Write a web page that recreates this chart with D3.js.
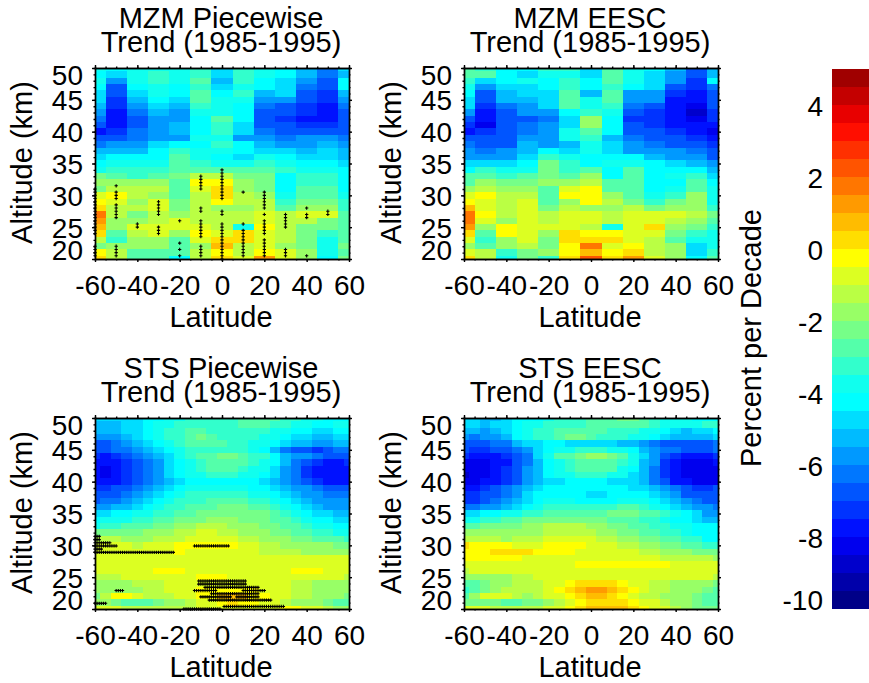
<!DOCTYPE html>
<html>
<head>
<meta charset="utf-8">
<script src="https://cdn.jsdelivr.net/npm/d3@7"></script>
<style>
  body { margin: 0; background: #fff; }
  svg { display: block; }
  text { font-family: "Liberation Sans", Arial, sans-serif; fill: #000; }
</style>
</head>
<body>
<div id="chart"></div>
<script>
const width = 869, height = 683;

// altitude rows, top to bottom
const altitudes = d3.range(50, 19, -1);
const latMzm = d3.range(-60, 61, 10);
const latSts = d3.range(-60, 61, 5);
const latTicks = [-60, -40, -20, 0, 20, 40, 60];
const altTicks = [20, 25, 30, 35, 40, 45, 50];
const barTicks = [-10, -8, -6, -4, -2, 0, 2, 4];

// jet, 30 bands from -10 to 5
const bandColors = ["#000088","#0000aa","#0000cc","#0000ee","#0011ff","#0033ff","#0055ff","#0077ff","#0099ff","#00bbff",
  "#00ddff","#00ffff","#10ffee","#32ffcc","#54ffaa","#76ff88","#98ff66","#baff44","#dcff22","#ffff00",
  "#ffde00","#ffbc00","#ff9a00","#ff7600","#ff5400","#ff3000","#ff0e00","#e80000","#c40000","#a00000"];

const mzmPiecewise = [
[-3.7,-4.2,-3.7,-3.7,-3.7,-3.2,-4.7,-3.2,-3.7,-4.2,-5.2,-6.2,-5],
[-4.2,-4.7,-3.7,-3.4,-3.7,-3.4,-5.0,-3.2,-3.7,-4.2,-5.2,-6.2,-5.2],
[-4.0,-6,-4,-3.4,-4,-3.0,-5.2,-3.2,-4.2,-4.7,-5.7,-6.7,-4.2],
[-4.2,-6.7,-4.2,-3.7,-4.2,-3.2,-4.7,-3.7,-4.2,-4.7,-6.2,-7,-4.2],
[-4.7,-7,-4.7,-4,-4.2,-2.7,-4.2,-3.4,-5.2,-5,-6.7,-7.5,-5.2],
[-4.7,-7.5,-5.2,-4.4,-4.7,-2.7,-3.7,-3.7,-5.7,-5.7,-7,-7.5,-5.7],
[-5.2,-7.5,-5.7,-4.7,-5.2,-3.2,-3.7,-4.2,-6.2,-7,-7.5,-8,-6.2],
[-5.7,-8,-6.2,-5.2,-5.7,-3.7,-3.7,-4.2,-6.7,-7,-7.5,-8,-6.7],
[-6.5,-8,-6.7,-5.7,-5.7,-4.2,-3,-4.2,-7,-7.2,-7.8,-7.8,-6.7],
[-7,-8,-6.7,-5.7,-5.2,-4.4,-3.2,-4.7,-6.7,-6.8,-7.5,-7.5,-6.7],
[-8,-7.5,-6.5,-6,-5.2,-4.2,-3.4,-5,-6.2,-6.7,-6.7,-6.7,-6.7],
[-7,-7,-6.2,-5.7,-5.7,-3.7,-3.7,-5.7,-5.7,-6.2,-6,-6,-6.2],
[-6.5,-6,-5.7,-4.7,-4.2,-4.2,-3.5,-4.4,-5.2,-5.7,-5.7,-5.5,-5.7],
[-5.5,-5.2,-5.2,-4.2,-3.5,-4,-4,-4.2,-4.7,-4.7,-5.2,-5,-5.2],
[-4.7,-4.5,-4.5,-4.2,-3.0,-4,-4.2,-4.7,-3.7,-4.3,-4.7,-4.7,-5.2],
[-4.2,-3.7,-3.7,-3.7,-2.7,-3.2,-3.7,-3.7,-3.2,-3.7,-4.5,-4.2,-4.7],
[-3.7,-3.2,-3.2,-3.2,-2.7,-2.7,-2.7,-3,-2.7,-3.5,-3.7,-4.0,-4.5],
[-2.5,-2.7,-3.5,-2.7,-2.2,-1.2,-1.2,-2.2,-2.4,-4.2,-3.5,-3.5,-4.2],
[-2,-1.7,-2,-2,-2.7,-0.5,-0.2,-1.7,-2.2,-4.2,-3.2,-3.2,-4.2],
[-2.2,-1.2,-1.5,-1.5,-2.9,-0.6,0.2,-1.7,-2.4,-4.2,-3,-3.0,-4.2],
[-0.7,-0.2,-1.3,-1.7,-2.9,-1.2,0.2,-1.2,-2,-3.7,-3,-2.7,-4.0],
[-0.2,-1,-2,-0.7,-2.5,-1.5,-0.5,-1.2,-1.2,-3.2,-2.2,-2.5,-3.5],
[0.3,-1.3,-1.5,-1,-2.2,-1.3,-1.7,-1.7,-1.2,-2.7,-1.7,-1.7,-3.2],
[1.5,-1.2,-2.2,-1.3,-1.7,-1.3,-1.2,-1.4,-0.9,-1.2,-1,-0.7,-2.7],
[1.0,-2,-1.7,-1.3,-0.7,-1.3,-1.4,-1.2,-0.7,-1.2,-1.2,-2.2,-2.7],
[0.5,-2,-0.7,-0.9,-1,-1,-1.2,-3.7,-0.5,-1.5,-2.2,-2.4,-3],
[0.2,-3,-1.5,-1,-2,-0.2,-0.9,0.2,-1,-1.5,-2.4,-3.2,-2.7],
[-1.5,-3.5,-1.7,-1.7,-3,-0.7,0,0.4,-1,-1.5,-2.4,-3.7,-2.7],
[-2.2,-1.7,-1.7,-1.7,-2.7,-1.9,0.6,-1.2,-0.7,-1.7,-2.2,-3.7,-2.2],
[-0.2,-1.2,-3,-2.9,-2.9,-1.4,-0.3,-1.4,-0.4,-1.0,-1.7,-4,-2.9],
[0.1,-1.2,-3,-2.9,-4.2,-1.2,0.2,-1,1.0,-1,-1.7,-4.2,-2.5]
];

const mzmEesc = [
[-3,-3.5,-4.5,-4.5,-3.5,-3.5,-4.7,-3,-3.7,-4.2,-5.2,-7,-5.5],
[-3,-2.9,-4.2,-4.7,-4,-3.7,-5,-2.7,-3.7,-4.7,-5.7,-7,-5.5],
[-3.2,-4.7,-4.2,-4,-4.2,-3.2,-4.2,-3,-4,-4.7,-6,-7.2,-4.5],
[-4,-5.7,-4.7,-4.7,-4.2,-3.3,-4.2,-3.5,-4.2,-4.7,-6.7,-7.5,-6.5],
[-4.2,-6.7,-5.2,-5,-5,-3,-5.3,-3,-5.7,-5.7,-7.5,-8,-7],
[-4.7,-7,-5.2,-5.2,-5,-2.7,-3.7,-3,-6,-6,-7.8,-8,-7],
[-5,-7.5,-6.2,-5.7,-5,-2.7,-3.7,-3.5,-6.5,-7,-7.8,-8.5,-7],
[-6,-8,-6.7,-6,-6,-4.2,-3.2,-3.7,-7,-7.5,-8,-8.7,-7.5],
[-7,-8,-7,-6.7,-6.5,-4.7,-2,-4.2,-7.2,-7.5,-8,-8.5,-7.5],
[-7.5,-8.2,-7,-6.5,-6,-4.7,-2,-4.3,-7,-7.5,-8,-8,-8],
[-8,-7.5,-7,-6.5,-6,-4,-3,-4.5,-7,-7,-7.5,-7.7,-8.2],
[-7,-7,-7,-6,-5.7,-3.7,-3.5,-5.5,-6.5,-7,-7,-7.3,-7.7],
[-6.5,-6.7,-6.7,-5.2,-5.7,-5.2,-3.7,-4.7,-5.7,-6.2,-6.7,-7,-7.2],
[-6,-6.2,-6,-5.2,-4.2,-4.7,-3.7,-4.7,-5.7,-5.7,-6,-6.5,-7],
[-5.7,-5.7,-5.7,-4.7,-3.2,-3.7,-4.2,-4.2,-4.2,-5.2,-5.7,-6,-6.7],
[-5,-4.7,-4.7,-4.2,-2.5,-3.5,-4.2,-4,-3.7,-4.2,-5,-5.2,-6],
[-4.5,-3.2,-4,-3.7,-2.4,-3.5,-3,-4.5,-3,-4.2,-4.2,-4.5,-5.2],
[-3,-2.7,-3.5,-3,-2.4,-2.7,-1.7,-4.5,-3,-4.2,-4,-3.5,-5],
[-2.7,-2,-2.5,-2.5,-1.7,-1.7,-1.2,-3,-2.7,-4.5,-4.2,-3,-4.2],
[-1.7,-1.5,-1.7,-2,-2.7,-0.7,-0.2,-3,-2.7,-4.5,-4,-2.7,-3.7],
[-0.7,-0.2,-1.2,-1.5,-2.9,-0.5,-0.1,-1.7,-3,-3.7,-3.2,-1.7,-3.7],
[-0.4,-1,-1.2,-1,-2.9,-1.7,-0.4,-1.2,-2.5,-3.2,-2.5,-2,-3.7],
[0.5,-1,-1.2,-0.6,-2.2,-1.2,-1.7,-1.7,-1.2,-2.4,-1.7,-2,-3.2],
[1.7,-0.2,-1.2,-0.6,-1.2,-1,-1,-1.2,-0.7,-0.7,-0.8,-1.5,-2.5],
[1.7,-1,-1.7,-1,-1.2,-0.8,-1,-1.2,-0.7,-0.8,-1.2,-2,-2.7],
[1.2,-1.7,-0.2,-0.7,-1,-0.7,-1.2,-4,-0.7,0.1,-1.7,-2.4,-3.5],
[0.2,-2.7,-0.2,-0.7,-2,0.2,-0.5,-0.2,-0.7,-0.7,-2.4,-3.5,-3.7],
[-0.7,-3.5,-1.7,-0.7,-2.2,0,0.2,0.3,-1,-1.2,-2.7,-3.7,-4],
[-1.7,-2.7,-1.7,-1.2,-2.2,-0.5,1.7,-0.9,-0.2,-1.2,-2,-4.7,-3.7],
[-1,-1.2,-3.5,-2.2,-2,-0.1,0.7,-0.2,0,-1.2,-2,-4.7,-3.5],
[0,-1.2,-3.7,-2.4,-3.3,0.1,2,0.3,1.2,-0.7,-2,-4.2,-2.7]
];

const stsPiecewise = [
[-4.7,-4.7,-5.0,-5.0,-4.7,-4.2,-4.2,-3.7,-3.7,-3.5,-3.5,-3.5,-3.5,-3.2,-3.0,-2.7,-2.7,-3.0,-3.2,-3.5,-3.7,-4.0,-4.2,-4.2,-4.2],
[-5.2,-5.2,-5.2,-5.0,-4.7,-4.2,-3.9,-3.7,-3.5,-3.2,-3.2,-3.4,-3.4,-3.2,-3.0,-2.9,-2.9,-3.2,-3.5,-3.7,-4.0,-4.2,-4.2,-3.7,-3.7],
[-5.5,-5.5,-5.2,-5.0,-4.7,-4.2,-3.7,-3.5,-3.2,-2.9,-2.9,-3.2,-3.2,-3.4,-3.4,-3.2,-3.4,-3.7,-4.0,-4.2,-4.5,-4.7,-4.7,-4.5,-4.5],
[-5.7,-6.0,-5.7,-5.2,-4.7,-4.2,-3.7,-3.4,-3.2,-2.7,-2.4,-2.7,-3.2,-3.2,-3.2,-3.4,-3.7,-4.0,-4.2,-4.7,-5.0,-5.2,-5.2,-5.0,-5.0],
[-6.7,-6.7,-6.2,-5.7,-5.2,-4.7,-4.2,-3.7,-3.5,-3.0,-2.9,-3.0,-3.0,-3.2,-3.5,-3.7,-4.0,-4.2,-4.7,-5.2,-5.5,-5.7,-5.7,-5.5,-5.5],
[-7.0,-6.7,-6.5,-6.2,-6.0,-5.5,-4.7,-4.2,-3.9,-3.5,-3.4,-3.4,-3.2,-3.2,-3.4,-3.9,-4.5,-5.5,-6.2,-6.7,-7.0,-7.2,-6.8,-6.5,-6.2],
[-7.5,-7.7,-7.5,-7.0,-6.5,-6,-5.2,-4.7,-4,-3.2,-2.7,-2.7,-2.4,-2.4,-2.7,-3.2,-3.5,-4.2,-5.2,-5.7,-6.0,-6.2,-6.7,-7.0,-7.0],
[-7.7,-8.0,-7.7,-7.5,-7.0,-6.5,-5.7,-5,-4.2,-3.7,-3.2,-3,-2.7,-2.7,-3,-3.5,-4,-4.5,-5.5,-6.2,-7,-7.5,-7.7,-7.7,-7.5],
[-8.0,-8.2,-8.0,-7.5,-7.0,-6.5,-5.7,-5,-4.2,-3.7,-3.2,-3,-3,-3,-3.2,-3.7,-4,-4.7,-5.7,-6.5,-7.2,-7.7,-8,-8,-8],
[-8.0,-8.2,-8,-7.5,-7,-6.5,-5.7,-5,-4.5,-4,-3.7,-3.5,-3.5,-3.5,-3.7,-4,-4.2,-5,-5.7,-6.5,-7.2,-7.7,-8,-8,-8],
[-8,-8,-7.7,-7.2,-6.7,-6.2,-5.7,-5.2,-4.7,-4.2,-4.2,-4.2,-4.2,-4.2,-4.2,-4.2,-4.7,-5.2,-5.7,-6.2,-6.7,-7.2,-7.7,-8,-8],
[-7.2,-7.2,-7,-6.7,-6.2,-5.7,-5.2,-4.7,-4.2,-4,-3.7,-3.7,-3.7,-3.9,-4,-4.2,-4.5,-4.7,-5.2,-5.7,-6,-6.5,-6.7,-6.7,-6.7],
[-6.7,-6.7,-6.7,-6.2,-5.7,-5.2,-4.7,-4.2,-3.9,-3.5,-3.4,-3.4,-3.4,-3.4,-3.5,-3.7,-4,-4.2,-4.7,-5.2,-5.7,-6,-6.2,-6.2,-6.2],
[-6.7,-6.5,-6.2,-5.7,-5.2,-4.7,-4.2,-3.9,-3.5,-3.2,-3.2,-3,-3,-3,-3,-3.2,-3.5,-3.9,-4.2,-4.7,-5.2,-5.7,-5.7,-6,-6],
[-5.7,-5.7,-5.5,-5.2,-4.7,-4.2,-3.7,-3.5,-3.2,-3,-2.9,-2.7,-2.5,-2.4,-2.4,-2.7,-3,-3.4,-3.7,-4.2,-4.7,-5.2,-5.7,-5.7,-5.7],
[-4.7,-4.7,-4.5,-4.2,-3.9,-3.7,-3.4,-3.2,-3,-2.7,-2.4,-2.2,-2.2,-2.2,-2.2,-2.4,-2.5,-2.9,-3.2,-3.7,-4.2,-4.7,-5,-5.2,-5.2],
[-4.2,-4,-3.9,-3.7,-3.4,-3.2,-3.0,-2.9,-2.5,-2.2,-2.2,-2,-2,-2,-2.2,-2.2,-2.4,-2.7,-2.9,-3.2,-3.7,-4.2,-4.5,-4.7,-4.7],
[-3.7,-3.4,-3.2,-3,-2.9,-2.7,-2.4,-2.2,-2,-1.7,-1.4,-1.2,-1.4,-1.7,-1.9,-2,-2.2,-2.4,-2.7,-3,-3.4,-3.7,-4,-4.2,-4.2],
[-2.2,-2.2,-2.4,-2.2,-2.2,-2,-1.9,-1.7,-1.4,-1.2,-1.0,-1,-1.2,-1.4,-1.7,-1.7,-2,-2.2,-2.4,-2.7,-2.9,-3.2,-3.5,-3.7,-3.7],
[-1.2,-1.2,-1.4,-1.7,-1.7,-1.7,-1.5,-1.4,-1.2,-0.9,-0.7,-0.7,-0.9,-1,-1.2,-1.4,-1.7,-1.9,-2,-2.2,-2.4,-2.7,-2.9,-3,-3.2],
[-0.7,-0.7,-0.9,-1,-1.2,-1,-1,-0.9,-0.4,-0.2,-0.2,-0.2,-0.2,-0.4,-0.7,-1,-1.2,-1.4,-1.7,-1.7,-1.7,-2,-2,-2.2,-2.2],
[-0.7,-0.7,-0.7,-0.7,-0.7,-0.7,-0.7,-0.7,-0.4,-0.7,-0.7,-0.7,-0.7,-0.7,-0.9,-1,-1.2,-1.2,-1.4,-1.4,-1.7,-1.7,-1.9,-1.9,-2],
[-0.9,-0.7,-0.7,-0.7,-0.7,-0.7,-0.7,-0.7,-0.7,-0.7,-0.7,-0.7,-0.7,-0.7,-0.7,-0.7,-0.7,-0.7,-0.7,-0.7,-0.7,-0.7,-0.7,-0.7,-0.9],
[-0.7,-0.7,-0.7,-0.7,-0.7,-0.7,-0.7,-0.7,-0.7,-0.7,-0.7,-0.7,-0.7,-0.7,-0.7,-0.7,-0.7,-0.7,-0.7,-0.7,-0.7,-0.7,-0.7,-0.7,-0.7],
[-0.7,-0.7,-0.9,-0.7,-0.7,-0.7,-0.2,-0.2,-0.2,-0.7,-0.7,-0.7,-0.7,-0.7,-0.7,-0.7,-0.7,-0.7,-0.7,-0.2,-0.2,-0.2,-0.7,-0.7,-0.7],
[-1.2,-1.2,-1.2,-1,-1,-0.9,-0.7,-0.7,-0.7,-0.7,-0.2,-0.2,-0.2,-0.7,-0.7,-0.7,-0.7,-0.7,-0.7,-0.7,-0.7,-0.7,-0.7,-0.9,-1.2],
[-1.7,-1.7,-1.7,-1.7,-1.4,-1.2,-1.2,-1,-1,-0.9,-0.7,-0.7,-0.7,-0.7,-0.7,-0.7,-0.7,-0.9,-1,-1.2,-1.4,-1.7,-1.9,-1.9,-2],
[-1.7,-1.7,-1.7,-1.7,-1.7,-1.4,-1.2,-1,-0.9,-0.7,-0.5,-0.4,-0.2,-0.2,-0.2,-0.4,-0.7,-0.9,-1,-1.2,-1.4,-1.7,-1.7,-1.9,-2],
[-2.2,-1.4,-0.5,-0.2,-1,-1.2,-1.4,-1.2,-0.9,-0.7,-0.4,-0.2,0.7,0.7,0.7,-0.2,-0.4,-0.7,-1,-1.2,-1.4,-1.7,-1.7,-2,-2.4],
[-1.7,-2,-2.4,-2.7,-3,-2.7,-2.2,-2,-1.7,-1.2,-0.7,-0.7,-0.2,0.4,-0.2,-0.4,-0.7,-1,-1.2,-1.7,-1.7,-2,-2.2,-2.7,-3],
[-0.9,-0.9,-1.0,-1.2,-1.4,-1.2,-1.2,-1.4,-1.4,-1.2,-1,-0.7,-0.7,-0.7,-0.7,-0.7,-0.7,-0.7,-0.4,-0.2,-0.7,-1,-1.4,-1.7,-2]
];

const stsEesc = [
[-4.7,-5,-5.2,-5.2,-5,-4.5,-4.2,-4.2,-3.7,-3.5,-3.5,-3.2,-3,-3,-2.7,-2.4,-2.4,-2.7,-3.2,-3.7,-3.9,-4,-4.2,-4.5,-4.5],
[-4.7,-5,-5.2,-5,-4.7,-4.2,-4,-3.7,-3.5,-3.2,-3.2,-3.2,-3,-2.9,-2.7,-2.7,-2.7,-3,-3.2,-3.7,-4,-4,-3.7,-3.5,-3.5],
[-5.2,-5.5,-5.7,-5.2,-4.7,-4.2,-3.9,-3.5,-3.2,-2.9,-2.7,-2.7,-2.9,-3,-3.2,-3.2,-3.4,-3.7,-4,-4.5,-5,-5.2,-5,-4.7,-4.5],
[-6,-6.2,-6,-5.7,-5.2,-4.5,-3.9,-3.4,-3.2,-2.9,-2.5,-2.5,-2.9,-3.2,-3.2,-3.4,-3.7,-3.9,-4.2,-4.7,-5.2,-5.5,-5.5,-5.2,-5],
[-6.7,-6.7,-6.7,-6.5,-6.5,-5.5,-5,-4.7,-4.5,-4.5,-4.7,-4.7,-5,-5,-5,-5.2,-5.5,-5.7,-6.2,-6.7,-6.7,-6.7,-6.7,-6.7,-6.5],
[-7,-7.2,-7.2,-7,-6.7,-6.2,-5.7,-4.7,-4.2,-3.9,-3.7,-3.4,-3.4,-3.4,-3.7,-3.9,-4.5,-5.2,-5.7,-6.2,-6.5,-6.7,-6.7,-6.7,-6.5],
[-7.5,-8,-8,-7.7,-7.5,-7,-6.2,-5,-4,-3,-2.7,-2.2,-1.9,-2.0,-2.2,-2.7,-3.7,-5,-6,-7,-7.5,-8,-8,-7.7,-7.5],
[-8.2,-8.2,-8.2,-8,-7.7,-7,-6.2,-5.2,-4.2,-3.7,-3.2,-2.9,-2.7,-2.7,-3,-3.4,-4,-5.2,-6,-7.2,-8,-8.5,-8.5,-8.2,-8],
[-8.5,-8.5,-8.2,-8,-7.5,-6.7,-6,-5.2,-4.2,-3.7,-3.4,-3,-2.7,-2.7,-3,-3.7,-4.2,-5.2,-6.2,-7.2,-8,-8.5,-8.5,-8.5,-8.5],
[-8.7,-8.5,-8.2,-7.7,-7.2,-6.7,-6,-5.2,-4.5,-4,-3.7,-3.4,-3.4,-3.5,-3.7,-4,-4.7,-5.5,-6.2,-7.2,-8,-8.2,-8.5,-8.5,-8.5],
[-8.5,-8.2,-8,-7.7,-7.2,-6.7,-6,-5.5,-5,-4.7,-4.5,-4.5,-4.5,-4.5,-4.7,-4.7,-5,-5.5,-6.2,-7,-7.7,-8,-8.2,-8.5,-8.5],
[-7.7,-7.7,-7.2,-7,-6.5,-6,-5.5,-5,-4.5,-4.2,-4.2,-4.2,-4.2,-4.2,-4.2,-4.5,-4.7,-5,-5.5,-6,-6.5,-7,-7.2,-7.2,-7],
[-7.5,-7.2,-7,-6.7,-6.2,-5.7,-5,-4.5,-4.2,-4.2,-4.2,-4.5,-4.7,-4.7,-4.5,-4.2,-4.2,-4.5,-5,-5.5,-6,-6.7,-7,-7,-7],
[-7.2,-7.2,-6.7,-6.5,-6,-5.5,-4.7,-4.2,-3.9,-3.9,-4,-4.2,-4.5,-4.5,-4.2,-3.7,-3.7,-4,-4.2,-5,-5.5,-6,-6.5,-6.7,-6.7],
[-6.2,-6.2,-6,-5.7,-5.2,-4.7,-4.2,-3.7,-3.4,-3.2,-3.2,-3.2,-3.4,-3.4,-3.2,-3,-3,-3.2,-3.7,-4.2,-4.7,-5.2,-5.7,-6,-6.2],
[-4.7,-4.7,-4.5,-4.2,-3.9,-3.7,-3.4,-3.2,-2.9,-2.7,-2.7,-2.7,-2.7,-2.7,-2.4,-2.2,-2.4,-2.7,-3,-3.4,-3.9,-4.5,-5,-5.7,-6],
[-3.7,-3.7,-3.5,-3.4,-3,-2.7,-2.5,-2.4,-2.2,-2.2,-2.2,-2.2,-2.4,-2.5,-2.7,-2.7,-2.9,-3.2,-3.5,-3.7,-4.2,-4.5,-4.7,-5.2,-5.5],
[-2.7,-2.7,-2.5,-2.4,-2.2,-2.2,-2,-1.7,-1.5,-1.4,-1.4,-1.5,-1.7,-2,-2.2,-2.4,-2.7,-2.9,-3.2,-3.5,-3.7,-4,-4.2,-4.2,-4.5],
[-1.7,-1.9,-2,-2,-2,-1.9,-1.7,-1.7,-1.4,-1.2,-1.2,-1.2,-1.4,-1.7,-1.9,-2.2,-2.4,-2.7,-3,-3.4,-3.5,-3.7,-4.2,-4.2,-4.2],
[-1.2,-1.4,-1.4,-1.4,-1.7,-1.5,-1.4,-1.2,-1,-0.9,-0.7,-0.9,-1,-1.2,-1.5,-1.7,-1.9,-2.2,-2.4,-2.7,-3,-3.2,-3.4,-4.2,-4.2],
[0.2,-0.2,-0.2,-0.4,-0.5,-0.7,-0.7,-0.7,-0.5,-0.4,-0.2,-0.4,-0.7,-0.7,-1,-1.2,-1.4,-1.7,-1.9,-2.2,-2.4,-2.7,-3,-3.2,-3.2],
[-0.2,-0.2,-0.1,0.1,0.1,0.1,0,-0.2,-0.4,-0.4,-0.5,-0.7,-0.7,-0.7,-0.9,-1,-1,-1.2,-1.4,-1.7,-1.9,-2,-2.2,-2.4,-2.5],
[-0.2,-0.1,-0.1,-0.2,-0.2,-0.4,-0.7,-0.7,-0.7,-0.7,-0.9,-0.7,-0.7,-0.7,-0.7,-0.7,-0.7,-0.7,-1.0,-1.2,-1.2,-1.4,-1.4,-1.4,-1.7],
[-0.7,-0.7,-0.7,-0.9,-0.7,-0.7,-0.7,-0.7,-0.7,-0.7,-0.7,-0.5,-0.2,-0.2,-0.2,-0.2,-0.2,-0.2,-0.4,-0.5,-0.7,-0.7,-0.7,-0.7,-0.9],
[-1.2,-1,-1,-1,-1,-0.9,-0.7,-0.7,-0.7,-0.7,-0.7,-0.7,-0.7,-0.7,-0.7,-0.7,-0.7,-0.7,-0.7,-0.7,-0.7,-0.7,-0.7,-0.7,-0.9],
[-1.7,-1.7,-1.7,-1.7,-1.7,-1.4,-1.2,-1,-0.7,-0.7,-0.7,-0.7,-0.7,-0.7,-0.7,-0.7,-0.7,-0.7,-0.7,-0.7,-0.7,-0.7,-1,-1,-1.2],
[-2.7,-2.7,-2.2,-1.7,-1.7,-1.5,-1.4,-1.2,-1,-0.7,-0.2,0,0.2,0.2,0,-0.2,-0.7,-1,-1.2,-1.4,-1.7,-1.9,-1.9,-2,-2.2],
[-3.5,-2.7,-2.2,-1.7,-1.5,-1.5,-1.5,-1.4,-0.9,-0.2,0,0.5,1.0,1.0,0.7,0.2,-0.2,-0.7,-1.2,-1.4,-1.7,-1.7,-2,-2.2,-3],
[-3,-1.7,-0.9,-0.7,-1,-1.4,-1.7,-1.4,-1,-0.7,-0.2,0.2,0.7,0.7,0.2,-0.2,-0.7,-1.2,-1.4,-1.7,-1.7,-2,-2.2,-2.7,-3],
[-2.5,-2.2,-2.2,-2.4,-2.7,-2.9,-2.5,-2.2,-1.7,-1.2,-0.7,-0.2,0.2,0.2,0.2,0,-0.2,-0.7,-1,-1.4,-1.7,-1.9,-2.2,-2.7,-3],
[-1,-1,-1,-1.2,-1.4,-1.4,-1.2,-1.2,-1,-0.7,-0.2,0.2,0.5,0.7,0.7,0.5,0.2,-0.2,-0.7,-1,-1.2,-1.7,-2.2,-2.2,-2.4]
];

// significant points in MZM Piecewise: [latitude, altitudes]
const mzmDots = [
  [-60, [31,30.5,30,29.5,29,28.5,28,27.5,27,26.5,26,25.5,25,24.5,24,22,21.5,21,20.5]],
  [-50, [31.5,30.5,30,29.5,28.5,28,27.5,27,26.5,22,21.5,21,20.5]],
  [-40, [25.5,25]],
  [-30, [29,28.5,28,27.5,27,25,24.5,24]],
  [-20, [26,22.5,21.5,20.5]],
  [-10, [33,32.5,32,31.5,31,28,27.5,26,25.5,25,24.5,24,23.5,22,21.5,21,20.5]],
  [0, [34,33.5,33,32.5,32,31.5,31,30.5,30,29.5,27.5,27,25.5,25,24.5,24,23.5,23,22.5,22,21.5,21,20.5,20]],
  [10, [30.5,25.5,24.5,24,23.5,23,22.5,22,21.5,21,20.5]],
  [20, [30.5,30,29.5,29,28.5,28,27,26,25.5,25,24.5,24,23,22.5,22,21.5,21,20.5]],
  [30, [27,26.5,26,25.5,25,21.5,21,20.5]],
  [40, [28,27,26.5,20.5]],
  [50, [27.5,27]]
];

// significant runs in STS Piecewise: [altitude, first latitude, last latitude]
const stsRuns = [
  [31.4,-60,-58],[30.9,-60,-58],[30.4,-60,-53],[29.9,-60,-50],[29.9,-13,3],[29.4,-60,-57],[28.9,-60,-23],
  [24.4,-11,11],[23.9,-11,11],[23.4,-8,17],[22.9,-50,-47],[22.9,-13,-3],[22.9,10,20],[22.4,-5,17],
  [21.9,-10,4],[21.9,7,17],[21.4,-6,23],[20.9,-60,-55],[20.4,1,29],[20,-18,-1]
];
const stsDots = stsRuns.flatMap(([alt, a, b]) => d3.range(a, b + 1).map(lat => [lat, alt]));

const panelWidth = 254, panelHeight = 191;
const panels = [
  { title: "MZM Piecewise", left: 95, top: 68, rows: mzmPiecewise, lats: latMzm,
    dots: mzmDots.flatMap(([lat, alts]) => alts.map(alt => [lat, alt])) },
  { title: "MZM EESC", left: 464, top: 68, rows: mzmEesc, lats: latMzm, dots: [] },
  { title: "STS Piecewise", left: 95, top: 418, rows: stsPiecewise, lats: latSts, dots: stsDots },
  { title: "STS EESC", left: 464, top: 418, rows: stsEesc, lats: latSts, dots: [] }
];

const color = d3.scaleQuantize().domain([-10, 5]).range(bandColors);
const xScale = d3.scaleLinear().domain([-60, 60]).range([0, panelWidth]);
const yScale = d3.scaleLinear().domain([20, 50]).range([panelHeight, 0]);

// plain hyphen in tick labels, not the typographic minus
const tickText = d => String(d);

const svg = d3.select("#chart").append("svg")
  .attr("width", width)
  .attr("height", height)
  .attr("viewBox", `0 0 ${width} ${height}`);

svg.append("defs").append("clipPath").attr("id", "panel-clip")
  .append("rect").attr("width", panelWidth).attr("height", panelHeight);

panels.forEach(p => {
  const g = svg.append("g").attr("transform", `translate(${p.left},${p.top})`);
  const step = p.lats[1] - p.lats[0];

  // Cells
  const cells = p.rows.flatMap((row, i) =>
    row.map((v, j) => ({ alt: altitudes[i], lat: p.lats[j], v })));

  g.append("g").attr("clip-path", "url(#panel-clip)")
    .selectAll("rect")
    .data(cells)
    .join("rect")
    .attr("x", d => xScale(d.lat - step / 2))
    .attr("y", d => yScale(d.alt + 0.5))
    .attr("width", xScale(step) - xScale(0))
    .attr("height", yScale(0) - yScale(1))
    .attr("fill", d => color(d.v))
    .attr("shape-rendering", "crispEdges");

  // Significance marks
  g.selectAll("path.dot")
    .data(p.dots)
    .join("path")
    .attr("class", "dot")
    .attr("transform", d => `translate(${xScale(d[0])},${yScale(d[1])})`)
    .attr("d", d3.symbol(d3.symbolCross, 6))
    .attr("fill", "#000");

  // Axes, ticks point outward on all four sides
  const minorX = d3.range(-60, 61, 5);
  const minorY = d3.range(20, 51, 1);
  const addAxis = (axisFn, scale, values, size, fmt, transform) =>
    g.append("g").attr("transform", transform)
      .call(axisFn(scale).tickValues(values).tickSize(size).tickSizeOuter(0).tickFormat(fmt || ""))
      .call(a => a.selectAll("line,path").attr("stroke", "#000").attr("stroke-width", 1.4));

  addAxis(d3.axisBottom, xScale, minorX, 1.5, null, `translate(0,${panelHeight})`);
  addAxis(d3.axisTop, xScale, minorX, 1.5, null, "");
  addAxis(d3.axisLeft, yScale, minorY, 1.5, null, "");
  addAxis(d3.axisRight, yScale, minorY, 1.5, null, `translate(${panelWidth},0)`);
  addAxis(d3.axisTop, xScale, latTicks, 3, null, "");
  addAxis(d3.axisRight, yScale, altTicks, 3, null, `translate(${panelWidth},0)`);

  const xAxis = addAxis(d3.axisBottom, xScale, latTicks, 3, tickText, `translate(0,${panelHeight})`);
  xAxis.selectAll("text").attr("font-size", 28).attr("y", 16).attr("dy", "0.71em");

  const yAxis = addAxis(d3.axisLeft, yScale, altTicks, 3, tickText, "");
  yAxis.selectAll("text").attr("font-size", 28).attr("x", -12)
    .attr("dy", d => d === 50 ? "0.6em" : d === 20 ? "0em" : "0.36em");

  // Titles and axis names
  g.append("text").text(p.title)
    .attr("x", panelWidth / 2 - 1).attr("y", -40).attr("text-anchor", "middle").attr("font-size", 29);
  g.append("text").text("Trend (1985-1995)")
    .attr("x", panelWidth / 2 - 1).attr("y", -16).attr("text-anchor", "middle").attr("font-size", 29);
  g.append("text").text("Latitude")
    .attr("x", panelWidth / 2 - 1).attr("y", panelHeight + 68).attr("text-anchor", "middle").attr("font-size", 29);
  g.append("text").text("Altitude (km)")
    .attr("transform", `translate(-63,${panelHeight / 2 - 1}) rotate(-90)`)
    .attr("text-anchor", "middle").attr("font-size", 29);
});

// Colour bar
const barScale = d3.scaleLinear().domain([-10, 5]).range([609, 69]);
const bandEdges = d3.range(-10, 5, 0.5);

svg.append("g").selectAll("rect")
  .data(bandEdges)
  .join("rect")
  .attr("x", 832)
  .attr("y", d => barScale(d + 0.5))
  .attr("width", 37)
  .attr("height", barScale(0) - barScale(0.5))
  .attr("fill", d => color(d + 0.25))
  .attr("shape-rendering", "crispEdges");

svg.append("g").attr("transform", "translate(832,0)")
  .call(d3.axisLeft(barScale).tickValues(barTicks).tickSize(0).tickPadding(9).tickFormat(tickText))
  .call(a => a.select("path").remove())
  .call(a => a.selectAll("text").attr("font-size", 28)
    .attr("dy", d => d === -10 ? "0em" : "0.36em"));

svg.append("text").text("Percent per Decade")
  .attr("transform", "translate(761,338) rotate(-90)")
  .attr("text-anchor", "middle").attr("font-size", 29);
</script>
</body>
</html>
